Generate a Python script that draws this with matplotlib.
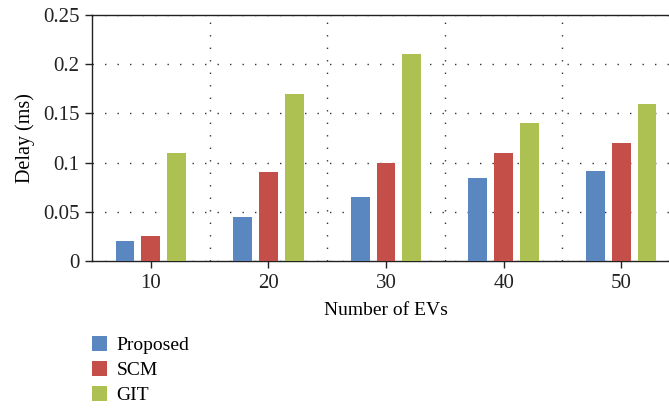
import matplotlib.pyplot as plt
import numpy as np

ev_counts = [10, 20, 30, 40, 50]
proposed = [0.02, 0.045, 0.065, 0.084, 0.091]
scm = [0.025, 0.09, 0.10, 0.11, 0.12]
git = [0.11, 0.17, 0.21, 0.14, 0.16]

series = [("Proposed", proposed, "#5b87c0"),
          ("SCM", scm, "#c44e48"),
          ("GIT", git, "#adc152")]

plt.rcParams["font.family"] = ["Liberation Serif", "DejaVu Serif"]

fig = plt.figure(figsize=(6.69, 4.09), dpi=100)
ax = fig.add_axes([92 / 669, 1 - 261 / 409, 588 / 669, 246 / 409])

x = np.array(ev_counts, dtype=float)
offsets = [-2.2, 0.0, 2.2]
for (name, vals, color), off in zip(series, offsets):
    ax.bar(x + off, vals, width=1.6, color=color, label=name, zorder=3)

ax.set_xlim(5, 55)
ax.set_ylim(0, 0.25)
ax.set_xticks(ev_counts)
ax.set_yticks([0, 0.05, 0.1, 0.15, 0.2, 0.25])
ax.set_yticklabels(["0", "0.05", "0.1", "0.15", "0.2", "0.25"])
ax.set_xticks([15, 25, 35, 45], minor=True)
ax.tick_params(axis="x", which="minor", length=0)
ax.tick_params(axis="both", which="major", labelsize=15, direction="out",
               length=5, width=1, colors="#222222", pad=4)

ax.yaxis.grid(True, linestyle=(0, (1, 8)), color="#333333", linewidth=1)
ax.xaxis.grid(True, which="minor", linestyle=(0, (1, 8)), color="#333333", linewidth=1)
ax.xaxis.grid(False, which="major")
ax.set_axisbelow(True)

ax.spines["right"].set_visible(False)
for s in ["left", "bottom", "top"]:
    ax.spines[s].set_linewidth(1)
    ax.spines[s].set_color("#222222")

ax.set_xlabel("Number of EVs", fontsize=14, labelpad=7)
ax.set_ylabel("Delay (ms)", fontsize=14.5, labelpad=6)

fig.legend(loc="upper left", bbox_to_anchor=(92 / 669, 1 - 336 / 409),
           frameon=False, fontsize=14, handlelength=0.75, handleheight=0.8,
           handletextpad=0.5, labelspacing=0.35, borderpad=0, borderaxespad=0)

fig.savefig("out.png", dpi=100)
